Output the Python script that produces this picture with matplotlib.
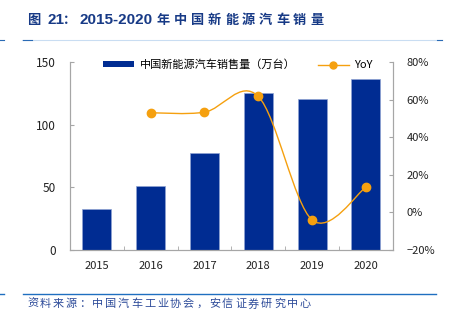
import matplotlib
matplotlib.use("Agg")
import matplotlib.pyplot as plt
from matplotlib.path import Path
from matplotlib.patches import PathPatch, Patch
from matplotlib.lines import Line2D
from matplotlib.ticker import PercentFormatter, FixedLocator

plt.rcParams["font.family"] = ["Noto Sans CJK SC", "DejaVu Sans"]

# data
years = ["2015", "2016", "2017", "2018", "2019", "2020"]
sales = [33.1, 50.7, 77.7, 125.6, 120.6, 136.7]  # 万台
yoy_years = ["2016", "2017", "2018", "2019", "2020"]
yoy = [0.53, 0.533, 0.617, -0.04, 0.134]

BAR_COLOR = "#002C92"
LINE_COLOR = "#F5A00F"
TITLE_COLOR = "#173A86"
AXIS_COLOR = "#A6A6A6"


def smooth_path(xs, ys):
    """Excel-style smoothed line built from cubic bezier segments."""
    pts = list(zip(xs, ys))
    verts = [pts[0]]
    codes = [Path.MOVETO]
    n = len(pts)
    for i in range(n - 1):
        p0 = pts[max(i - 1, 0)]
        p1 = pts[i]
        p2 = pts[i + 1]
        p3 = pts[min(i + 2, n - 1)]
        c1 = (p1[0] + (p2[0] - p0[0]) / 6, p1[1] + (p2[1] - p0[1]) / 6)
        c2 = (p2[0] - (p3[0] - p1[0]) / 6, p2[1] - (p3[1] - p1[1]) / 6)
        verts += [c1, c2, p2]
        codes += [Path.CURVE4] * 3
    return Path(verts, codes)


fig = plt.figure(figsize=(4.51, 3.23), dpi=100)
ax = fig.add_axes([0.155, 0.226, 0.716, 0.582])
ax2 = ax.twinx()

x = list(range(len(years)))
ax.bar(x, sales, width=0.54, color=BAR_COLOR, edgecolor="#8FA3D3",
       linewidth=0.5, zorder=2)
ax.set_xlim(-0.5, len(years) - 0.5)
ax.set_ylim(0, 150)
ax.set_yticks([0, 50, 100, 150])
ax.set_xticks(x)
ax.set_xticklabels(years)
ax.xaxis.set_minor_locator(FixedLocator([i + 0.5 for i in range(len(years) - 1)]))
ax.tick_params(axis="x", which="major", length=0, pad=8, labelsize=8, colors="#222222")
ax.tick_params(axis="x", which="minor", length=3, direction="in", color=AXIS_COLOR)
ax.tick_params(axis="y", length=3, direction="in", pad=10, labelsize=8.5,
               colors="#222222", color=AXIS_COLOR)

xi = [years.index(y) for y in yoy_years]
ax2.add_patch(PathPatch(smooth_path(xi, yoy), facecolor="none",
                        edgecolor=LINE_COLOR, linewidth=1.0, zorder=3))
ax2.plot(xi, yoy, linestyle="none", marker="o", markersize=6,
         color=LINE_COLOR, zorder=4)
ax2.set_ylim(-0.2, 0.8)
ax2.set_yticks([-0.2, 0, 0.2, 0.4, 0.6, 0.8])
ax2.yaxis.set_major_formatter(PercentFormatter(1.0, decimals=0))
ax2.tick_params(axis="y", length=3, direction="in", pad=10, labelsize=8,
                colors="#222222", color=AXIS_COLOR)

for a in (ax, ax2):
    a.spines["top"].set_visible(False)
    for s in ("left", "right", "bottom"):
        a.spines[s].set_color(AXIS_COLOR)
        a.spines[s].set_linewidth(0.8)

handles = [
    Patch(facecolor=BAR_COLOR, edgecolor="none"),
    Line2D([], [], color=LINE_COLOR, marker="o", markersize=5, linewidth=1.0),
]
fig.legend(handles, ["中国新能源汽车销售量（万台）", "YoY"], loc="center",
           bbox_to_anchor=(0.528, 0.799), ncol=2, frameon=False, fontsize=8,
           handlelength=2.8, handleheight=0.45, columnspacing=2.0,
           handletextpad=0.5)


def spaced_text(x0, y0, text, step, **kw):
    # place characters one by one to mimic the wide letter spacing
    for i, ch in enumerate(text):
        fig.text(x0 + i * step, y0, ch, **kw)


# title
ty = 1 - 20 / 323
title_kw = dict(fontweight="bold", color=TITLE_COLOR, va="center")
latin = ["Liberation Sans", "Noto Sans CJK SC"]
fig.text(27 / 451, ty, "图", fontsize=9.5, ha="left", **title_kw)
fig.text(47 / 451, ty, "21", fontsize=11, ha="left", family=latin, **title_kw)
fig.text(70 / 451, ty, "：", fontsize=9.5, ha="center", **title_kw)
fig.text(80 / 451, ty, "2015-2020", fontsize=11, ha="left", family=latin,
         **title_kw)
spaced_text(157 / 451, ty, "年中国新能源汽车销量", 17 / 451,
            fontsize=9.5, ha="left", **title_kw)

# decorative lines
fig.add_artist(Line2D([22 / 451, 442 / 451], [1 - 40 / 323] * 2,
                      color="#C9DDF2", linewidth=0.8))
for xs in ([0, 4 / 451], [23 / 451, 32 / 451], [437 / 451, 442 / 451]):
    fig.add_artist(Line2D(xs, [1 - 40 / 323] * 2, color="#2A6BB5", linewidth=0.8))
fig.add_artist(Line2D([23 / 451, 436 / 451], [1 - 294 / 323] * 2,
                      color="#1F6FC0", linewidth=1.0))
fig.add_artist(Line2D([0, 4 / 451], [1 - 294 / 323] * 2,
                      color="#1F6FC0", linewidth=1.0))

# source
spaced_text(27 / 451, 1 - 304 / 323, "资料来源：中国汽车工业协会，安信证券研究中心",
            13.0 / 451, fontsize=8, color="#2E4C9A", style="italic",
            va="center", ha="left")

fig.savefig("out.png", dpi=100)
